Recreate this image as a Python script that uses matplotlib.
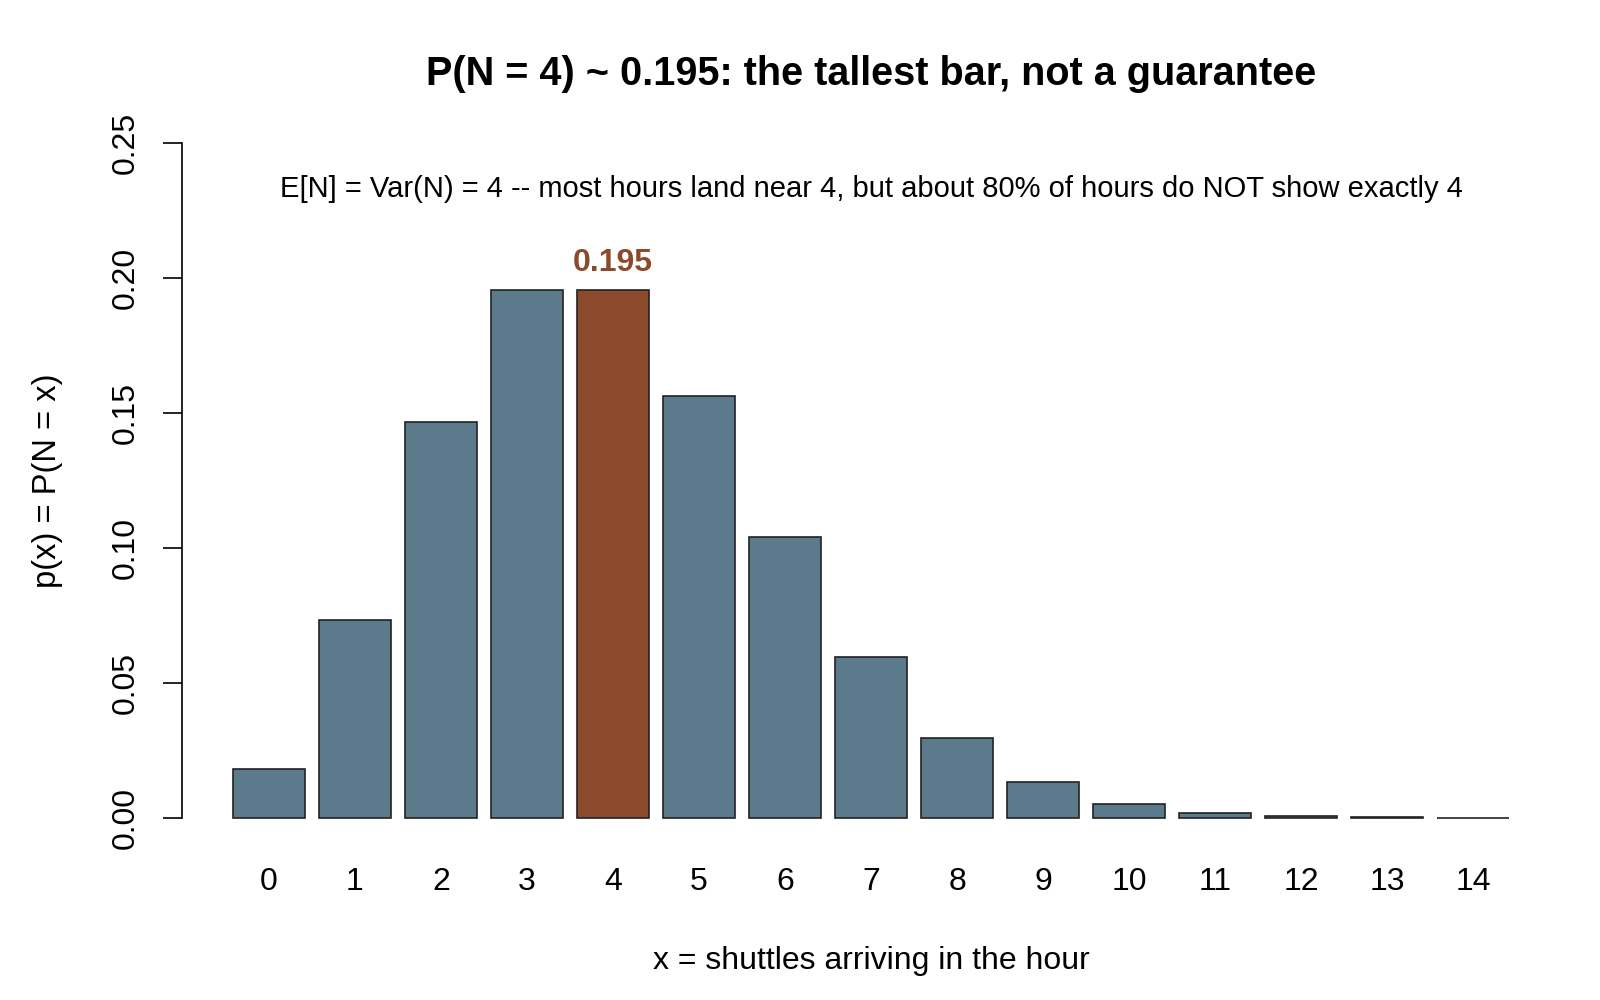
import numpy as np
import matplotlib.pyplot as plt

plt.rcParams['font.family'] = ['Liberation Sans', 'DejaVu Sans']

# shuttles arriving per hour and their probabilities
counts = [str(k) for k in range(15)]
probs = [0.0183, 0.0733, 0.1465, 0.1954, 0.1954, 0.1563, 0.1042, 0.0595,
         0.0298, 0.0132, 0.0053, 0.0019, 0.0006, 0.0002, 0.00005]
highlight = 4
peak_label = '0.195'

titulo = 'P(N = 4) ~ 0.195: the tallest bar, not a guarantee'
subtitulo = 'E[N] = Var(N) = 4 -- most hours land near 4, but about 80% of hours do NOT show exactly 4'

cor_barra = '#5B7A8C'
cor_destaque = '#8B4A2B'

fig = plt.figure(figsize=(16, 10), dpi=100)
ax = fig.add_axes([0.11375, 0.155, 0.86125, 0.729])

# estilo barplot do R: largura 1, espaco 0.2
pos = 0.2 + 1.2 * np.arange(len(probs)) + 0.5
cores = [cor_destaque if i == highlight else cor_barra for i in range(len(probs))]
ax.bar(pos, probs, width=1.0, color=cores, edgecolor='#222222', linewidth=1.2)

ax.set_xlim(0.2 - 0.712, 18.0 + 0.712)
ax.set_ylim(-0.01, 0.26)

ax.set_yticks([0.0, 0.05, 0.10, 0.15, 0.20, 0.25])
ax.set_yticklabels(['0.00', '0.05', '0.10', '0.15', '0.20', '0.25'],
                   rotation=90, va='center', fontsize=23)
ax.tick_params(axis='y', length=14, width=1.2, pad=16)
ax.set_xticks(pos)
ax.set_xticklabels(counts, fontsize=23)
ax.tick_params(axis='x', length=0, pad=16)

for s in ['top', 'right', 'bottom']:
    ax.spines[s].set_visible(False)
ax.spines['left'].set_bounds(0, 0.25)
ax.spines['left'].set_linewidth(1.2)

ax.text(pos[highlight], probs[highlight] + 0.0045, peak_label, ha='center',
        va='bottom', fontsize=23, fontweight='bold', color=cor_destaque)

ax.text(np.mean(ax.get_xlim()), 0.233, subtitulo, ha='center', va='center', fontsize=21)

ax.set_title(titulo, fontsize=28.5, fontweight='bold', pad=22)
ax.set_xlabel('x = shuttles arriving in the hour', fontsize=23, labelpad=35)
ax.set_ylabel('p(x) = P(N = x)', fontsize=23.5, labelpad=34)

fig.savefig('out.png', dpi=100)
